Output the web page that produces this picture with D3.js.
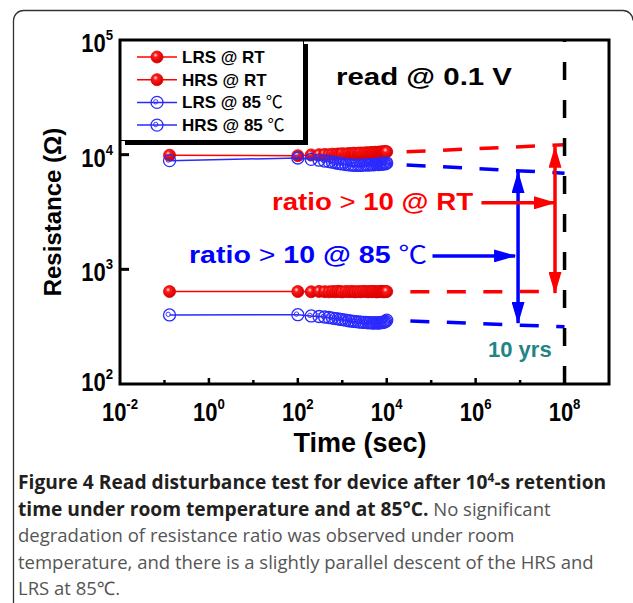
<!DOCTYPE html>
<html>
<head>
<meta charset="utf-8">
<script src="https://cdn.jsdelivr.net/npm/d3@7"></script>
<style>
body { margin: 0; background: #fff; }
svg { display: block; }
.tick-lab { font-family: "Liberation Sans", Arial, sans-serif; font-weight: bold; }
.bold { font-family: "Liberation Sans", Arial, sans-serif; font-weight: bold; }
.cap { font-family: "Open Sans", "Noto Sans", sans-serif; }
</style>
</head>
<body>
<svg width="633" height="603"></svg>
<script>
// retention read-out times (sec)
var times = [0.13, 100, 200, 300, 400, 500, 600, 700, 800, 900, 1000, 1200, 1400, 1600, 1800, 2000, 2300,
    2600, 3000, 3400, 3800, 4200, 4600, 5000, 5500, 6000, 6500, 7000, 7500, 8000, 8500, 9000, 9500, 10000];
var hrsRT = [9900, 9800, 9950, 10000, 10050, 10000, 10100, 10050, 10150, 10100, 10200, 10150, 10250, 10200, 10300, 10250, 10300,
    10350, 10300, 10400, 10350, 10400, 10450, 10400, 10500, 10450, 10500, 10550, 10500, 10600, 10550, 10600, 10650, 10600];
var lrsRT = [640, 640, 637, 642, 639, 636, 641, 638, 643, 640, 635, 641, 638, 642, 639, 636, 640,
    637, 643, 640, 636, 641, 638, 642, 639, 635, 640, 638, 643, 640, 636, 641, 638, 640];
var hrs85 = [8870, 9350, 9100, 8950, 8800, 8700, 8600, 8500, 8400, 8350, 8300, 8200, 8150, 8100, 8100, 8050, 8100,
    8050, 8100, 8150, 8100, 8150, 8200, 8150, 8200, 8250, 8200, 8300, 8250, 8300, 8350, 8300, 8400, 8450];
var lrs85 = [400, 402, 392, 388, 384, 380, 376, 372, 370, 366, 364, 360, 356, 354, 352, 350, 348,
    346, 345, 344, 342, 343, 341, 340, 342, 341, 340, 342, 344, 343, 346, 348, 352, 360];

// extrapolation to 10 years
var extHrsRT = [[2.8e4, 10600], [1e8, 12200]];
var extHrs85 = [[2.8e4, 8130], [1e8, 6900]];
var extLrsRT = [[3.4e4, 636], [4e7, 640]];
var extLrs85 = [[3.4e4, 355], [1e8, 315]];
var tenYears = 1e8;

// ratio arrows  [t, R from, R to]
var ratioRT = [6.1e7, 11700, 622];
var ratio85 = [9e6, 7070, 340];
var pointRT = [[1.35e6, 3800], [6.1e7, 3800]];
var point85 = [[1.07e5, 1310], [7.7e6, 1310]];

var xTicks = [1e-1, 1, 10, 100, 1e3, 1e4, 1e5, 1e6, 1e7];
var xLabelExp = [-2, 0, 2, 4, 6, 8];
var yLabelExp = [2, 3, 4, 5];

var legendItems = [
    {name: "LRS @ RT", c: "", kind: "rt"},
    {name: "HRS @ RT", c: "", kind: "rt"},
    {name: "LRS @ 85 ", c: "\u2103", kind: "ht"},
    {name: "HRS @ 85 ", c: "\u2103", kind: "ht"}
];

var red = "#ff0000", blue = "#0000ff", mblue = "#2a2aff";

var svg = d3.select("svg");

// outer panel
svg.append("path")
    .attr("d", "M13.5,603 V20.5 A10,10 0 0 1 23.5,10.5 H623 A10,10 0 0 1 633,20.5")
    .attr("fill", "none").attr("stroke", "#333").attr("stroke-width", 1.3);

var defs = svg.append("defs");
var grad = defs.append("radialGradient").attr("id", "ball")
    .attr("cx", "38%").attr("cy", "35%").attr("r", "65%");
grad.append("stop").attr("offset", "0%").attr("stop-color", "#ffe0e0");
grad.append("stop").attr("offset", "30%").attr("stop-color", "#ff1a1a");
grad.append("stop").attr("offset", "100%").attr("stop-color", "#d00000");

function arrowHead(id, col) {
    defs.append("marker").attr("id", id)
        .attr("markerUnits", "userSpaceOnUse")
        .attr("markerWidth", 22).attr("markerHeight", 13)
        .attr("refX", 21).attr("refY", 6.5)
        .attr("orient", "auto-start-reverse")
        .append("path").attr("d", "M0,0 L22,6.5 L0,13 Z").attr("fill", col);
}
arrowHead("ahRed", red);
arrowHead("ahBlue", blue);

var x = d3.scaleLog().domain([1e-2, 1e9]).range([120, 609]);
var y = d3.scaleLog().domain([1e2, 1e5]).range([384, 40]);

var line = d3.line()
    .x(function (d) { return x(d[0]); })
    .y(function (d) { return y(d[1]); });

function pairs(vals) {
    return times.map(function (t, i) { return [t, vals[i]]; });
}

function redBall(g, px, py) {
    g.append("circle").attr("cx", px).attr("cy", py).attr("r", 6)
        .attr("fill", "url(#ball)").attr("stroke", "#e00000").attr("stroke-width", 0.8);
}
function blueRing(g, px, py) {
    g.append("circle").attr("cx", px).attr("cy", py).attr("r", 6)
        .attr("fill", "none").attr("stroke", mblue).attr("stroke-width", 1.3);
    g.append("circle").attr("cx", px - 1.3).attr("cy", py - 0.6).attr("r", 2.2)
        .attr("fill", "none").attr("stroke", mblue).attr("stroke-width", 0.9);
}

function series(vals, kind) {
    var g = svg.append("g");
    var col = kind === "rt" ? red : mblue;
    g.append("path").datum(pairs(vals)).attr("d", line)
        .attr("fill", "none").attr("stroke", col).attr("stroke-width", 1.5);
    pairs(vals).forEach(function (d) {
        if (kind === "rt") redBall(g, x(d[0]), y(d[1]));
        else blueRing(g, x(d[0]), y(d[1]));
    });
}

series(lrsRT, "rt");
series(hrsRT, "rt");
series(lrs85, "ht");
series(hrs85, "ht");

// dashed extrapolations
[[extHrsRT, red], [extLrsRT, red], [extHrs85, blue], [extLrs85, blue]].forEach(function (e) {
    svg.append("path").datum(e[0]).attr("d", line)
        .attr("fill", "none").attr("stroke", e[1]).attr("stroke-width", 3.5)
        .attr("stroke-dasharray", "19 17.5");
});

// 10 years line
svg.append("path").datum([[tenYears, 1e2], [tenYears, 1e5]]).attr("d", line)
    .attr("fill", "none").attr("stroke", "#000").attr("stroke-width", 3.5)
    .attr("stroke-dasharray", "18 20");

// arrows
function arrow(pts, col, id, both) {
    var p = svg.append("path").datum(pts).attr("d", line)
        .attr("fill", "none").attr("stroke", col).attr("stroke-width", 3.5)
        .attr("marker-end", "url(#" + id + ")");
    if (both) p.attr("marker-start", "url(#" + id + ")");
}
arrow([[ratioRT[0], ratioRT[1]], [ratioRT[0], ratioRT[2]]], red, "ahRed", true);
arrow([[ratio85[0], ratio85[1]], [ratio85[0], ratio85[2]]], blue, "ahBlue", true);
arrow(pointRT, red, "ahRed", false);
arrow(point85, blue, "ahBlue", false);

// annotations
svg.append("text").attr("class", "bold").attr("x", 336).attr("y", 85)
    .attr("font-size", 23).attr("textLength", 176).attr("lengthAdjust", "spacingAndGlyphs")
    .text("read @ 0.1 V");

var tRT = svg.append("text").attr("class", "bold").attr("x", 272).attr("y", 210)
    .attr("font-size", 24).attr("fill", red)
    .attr("textLength", 201).attr("lengthAdjust", "spacingAndGlyphs");
tRT.append("tspan").text("ratio ");
tRT.append("tspan").attr("font-weight", "normal").text(">");
tRT.append("tspan").text(" 10 @ RT");

var t85 = svg.append("text").attr("class", "bold").attr("x", 189).attr("y", 263)
    .attr("font-size", 24).attr("fill", blue)
    .attr("textLength", 238).attr("lengthAdjust", "spacingAndGlyphs");
t85.append("tspan").text("ratio ");
t85.append("tspan").attr("font-weight", "normal").text(">");
t85.append("tspan").text("  10 @ 85 ");
t85.append("tspan").attr("font-weight", "normal").attr("font-family", "'Noto Sans CJK SC', 'DejaVu Sans'").text("\u2103");

svg.append("text").attr("class", "bold").attr("x", 488).attr("y", 357)
    .attr("font-size", 22).attr("fill", "#1f8585")
    .text("10 yrs");

// legend
var lg = svg.append("g");
lg.append("rect").attr("x", 125).attr("y", 44).attr("width", 183).attr("height", 101).attr("fill", "#000");
lg.append("rect").attr("x", 120.5).attr("y", 40.5).attr("width", 183).attr("height", 100)
    .attr("fill", "#fff").attr("stroke", "#000").attr("stroke-width", 1);
legendItems.forEach(function (d, i) {
    var ly = 57 + i * 22.7;
    var col = d.kind === "rt" ? red : mblue;
    lg.append("line").attr("x1", 137).attr("x2", 177).attr("y1", ly).attr("y2", ly)
        .attr("stroke", col).attr("stroke-width", 1.5);
    if (d.kind === "rt") redBall(lg, 157, ly); else blueRing(lg, 157, ly);
    var t = lg.append("text").attr("class", "bold").attr("x", 182).attr("y", ly + 6)
        .attr("font-size", 17);
    t.append("tspan").text(d.name);
    if (d.c) t.append("tspan").attr("font-weight", "normal")
        .attr("font-family", "'Noto Sans CJK SC', 'DejaVu Sans'").text(d.c);
});

// frame + ticks
svg.append("rect").attr("x", 120).attr("y", 40).attr("width", 489).attr("height", 344)
    .attr("fill", "none").attr("stroke", "#000").attr("stroke-width", 3);

svg.selectAll(".xt").data(xTicks).enter().append("line")
    .attr("x1", function (d) { return x(d); }).attr("x2", function (d) { return x(d); })
    .attr("y1", 384).attr("y2", function (d, i) { return i % 2 ? 378 : 380; })
    .attr("stroke", "#000").attr("stroke-width", 2.5);

svg.selectAll(".yt").data([1e3, 1e4]).enter().append("line")
    .attr("x1", 120).attr("x2", 129)
    .attr("y1", function (d) { return y(d); }).attr("y2", function (d) { return y(d); })
    .attr("stroke", "#000").attr("stroke-width", 3);

// tick labels, slightly condensed
var xl = svg.selectAll(".xl").data(xLabelExp).enter().append("text")
    .attr("class", "tick-lab").attr("text-anchor", "middle")
    .attr("transform", function (d) { return "translate(" + x(Math.pow(10, d)) + ",421) scale(0.88,1)"; })
    .attr("font-size", 25);
xl.append("tspan").text("10");
xl.append("tspan").attr("font-size", 15).attr("dy", -12).text(function (d) { return d; });

var yl = svg.selectAll(".yl").data(yLabelExp).enter().append("text")
    .attr("class", "tick-lab").attr("text-anchor", "end")
    .attr("transform", function (d) {
        return "translate(113," + (y(Math.pow(10, d)) + (d === 2 ? 7 : 12)) + ") scale(0.88,1)";
    })
    .attr("font-size", 25);
yl.append("tspan").text("10");
yl.append("tspan").attr("font-size", 15).attr("dy", -12).text(function (d) { return d; });

// axis titles
svg.append("text").attr("class", "bold").attr("text-anchor", "middle")
    .attr("x", 360).attr("y", 452).attr("font-size", 27)
    .text("Time (sec)");
svg.append("text").attr("class", "bold").attr("text-anchor", "middle")
    .attr("transform", "translate(61,212) rotate(-90)").attr("font-size", 24)
    .text("Resistance (\u03A9)");

// caption
var capLines = [
    [["b", "Figure 4 Read disturbance test for device after 10"], ["sup", "4"], ["b", "-s retention"]],
    [["b", "time under room temperature and at 85\u00B0C."], ["n", " No significant"]],
    [["n", "degradation of resistance ratio was observed under room"]],
    [["n", "temperature, and there is a slightly parallel descent of the HRS and"]],
    [["n", "LRS at 85\u2103."]]
];
capLines.forEach(function (ln, i) {
    var t = svg.append("text").attr("class", "cap").attr("x", 18).attr("y", 489 + i * 26.6)
        .attr("font-size", 18.5);
    var after = false;
    ln.forEach(function (p) {
        var s = t.append("tspan").text(p[1]);
        if (p[0] === "b") s.attr("font-weight", "bold").attr("fill", "#231f20").attr("font-size", 19.2);
        if (p[0] === "n") s.attr("fill", "#555");
        if (after) { s.attr("dy", 7); after = false; }
        if (p[0] === "sup") {
            s.attr("font-weight", "bold").attr("fill", "#231f20").attr("font-size", 12).attr("dy", -7);
            after = true;
        }
    });
});
</script>
</body>
</html>
